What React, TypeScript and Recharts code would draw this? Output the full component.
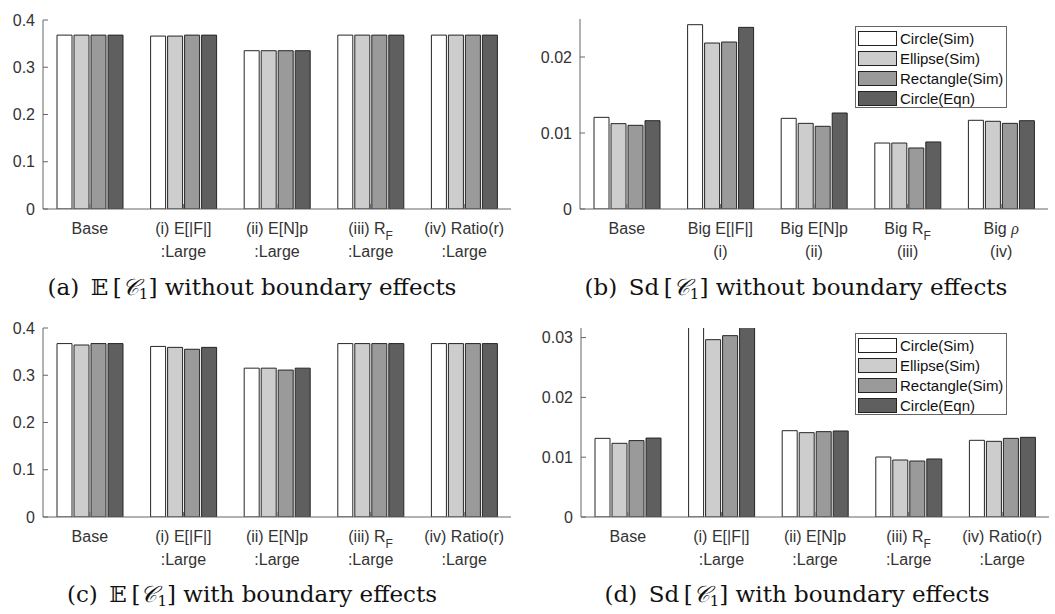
import React from 'react';
import { BarChart, Bar, XAxis, YAxis, Legend } from 'recharts';

// x tick labels ("\n" = second line, "_X" = subscript)
const labelsLarge = ['Base', '(i) E[|F|]\n:Large', '(ii) E[N]p\n:Large', '(iii) R_F\n:Large', '(iv) Ratio(r)\n:Large'];
const labelsBig = ['Base', 'Big E[|F|]\n(i)', 'Big E[N]p\n(ii)', 'Big R_F\n(iii)', 'Big ρ\n(iv)'];

const seriesKeys = ['circleSim', 'ellipseSim', 'rectSim', 'circleEqn'];
const seriesNames = ['Circle(Sim)', 'Ellipse(Sim)', 'Rectangle(Sim)', 'Circle(Eqn)'];
const seriesColors = ['#ffffff', '#cdcdcd', '#9a9a9a', '#5f5f5f'];

// (a) mean, no boundary effects
const meanNoBdCircleSim = [0.368, 0.366, 0.335, 0.368, 0.368];
const meanNoBdEllipseSim = [0.368, 0.366, 0.335, 0.368, 0.368];
const meanNoBdRectSim = [0.368, 0.368, 0.335, 0.368, 0.368];
const meanNoBdCircleEqn = [0.368, 0.368, 0.335, 0.368, 0.368];

// (b) sd, no boundary effects
const sdNoBdCircleSim = [0.01206, 0.02425, 0.01193, 0.00868, 0.01167];
const sdNoBdEllipseSim = [0.01123, 0.02184, 0.01127, 0.00868, 0.01154];
const sdNoBdRectSim = [0.01101, 0.02197, 0.01088, 0.00803, 0.01127];
const sdNoBdCircleEqn = [0.01162, 0.0239, 0.01263, 0.00882, 0.01162];

// (c) mean, with boundary effects
const meanBdCircleSim = [0.367, 0.361, 0.315, 0.367, 0.367];
const meanBdEllipseSim = [0.364, 0.359, 0.315, 0.367, 0.367];
const meanBdRectSim = [0.367, 0.355, 0.311, 0.367, 0.367];
const meanBdCircleEqn = [0.367, 0.359, 0.315, 0.367, 0.367];

// (d) sd, with boundary effects
const sdBdCircleSim = [0.01315, 0.034, 0.01443, 0.01003, 0.01282];
const sdBdEllipseSim = [0.01232, 0.02965, 0.0141, 0.00953, 0.01265];
const sdBdRectSim = [0.01277, 0.03032, 0.01427, 0.00936, 0.01315];
const sdBdCircleEqn = [0.0132, 0.0325, 0.01438, 0.0097, 0.01332];

const meanTicks = [0, 0.1, 0.2, 0.3, 0.4];
const sdTicksB = [0, 0.01, 0.02];
const sdTicksD = [0, 0.01, 0.02, 0.03];

const AXIS = '#666666';
const TEXT = '#333333';
const SANS = "'Liberation Sans', Arial, sans-serif";
const SERIF = "'DejaVu Serif', 'Liberation Serif', serif";

const makeRows = (labels: string[], cols: number[][]) =>
  labels.map((name, i) => {
    const row: any = { name };
    seriesKeys.forEach((k, j) => {
      row[k] = cols[j][i];
    });
    return row;
  });

const rowsA = makeRows(labelsLarge, [meanNoBdCircleSim, meanNoBdEllipseSim, meanNoBdRectSim, meanNoBdCircleEqn]);
const rowsB = makeRows(labelsBig, [sdNoBdCircleSim, sdNoBdEllipseSim, sdNoBdRectSim, sdNoBdCircleEqn]);
const rowsC = makeRows(labelsLarge, [meanBdCircleSim, meanBdEllipseSim, meanBdRectSim, meanBdCircleEqn]);
const rowsD = makeRows(labelsLarge, [sdBdCircleSim, sdBdEllipseSim, sdBdRectSim, sdBdCircleEqn]);

const renderLine = (line: string) => {
  if (line.includes('_')) {
    const [main, sub] = line.split('_');
    return [
      <tspan key="m">{main}</tspan>,
      <tspan key="s" dy={6} fontSize={12}>{sub}</tspan>,
    ];
  }
  if (line.includes('ρ')) {
    const [before] = line.split('ρ');
    return [
      <tspan key="b">{before}</tspan>,
      <tspan key="r" fontFamily="'Liberation Serif', serif" fontStyle="italic">ρ</tspan>,
    ];
  }
  return line;
};

const XTick = (props: any) => {
  const { x, y, payload } = props;
  const lines = String(payload.value).split('\n');
  return (
    <g>
      {lines.map((line, i) => (
        <text key={i} x={x} y={y + 25 + i * 22.5} textAnchor="middle" fill={TEXT} fontSize={16} fontFamily={SANS}>
          {renderLine(line)}
        </text>
      ))}
    </g>
  );
};

const LegendBox = (props: any) => {
  // keep the plotting order, not alphabetical
  const payload = [...(props.payload || [])].sort(
    (a: any, b: any) => seriesKeys.indexOf(a.dataKey) - seriesKeys.indexOf(b.dataKey)
  );
  return (
    <div style={{ border: `1px solid ${AXIS}`, background: '#fff', boxSizing: 'border-box', width: 152, height: 82, padding: '1px 2px', fontFamily: SANS, fontSize: 15, color: '#111' }}>
      {payload.map((p: any, i: number) => (
        <div key={i} style={{ display: 'flex', alignItems: 'center', height: 20 }}>
          <span style={{ display: 'inline-block', boxSizing: 'border-box', width: 39, height: 15, background: seriesColors[seriesKeys.indexOf(p.dataKey)] || p.color, border: '1px solid #222', marginRight: 3 }} />
          <span style={{ lineHeight: '15px' }}>{p.value}</span>
        </div>
      ))}
    </div>
  );
};

interface PanelProps {
  left: number;
  top: number;
  width: number;
  height: number;
  margin: { top: number; right: number; left: number; bottom: number };
  yWidth: number;
  xHeight: number;
  domain: [number, number];
  ticks: number[];
  rows: any[];
  legend?: { left: number; top: number };
}

const Panel = ({ left, top, width, height, margin, yWidth, xHeight, domain, ticks, rows, legend }: PanelProps) => (
  <div style={{ position: 'absolute', left, top, width, height }}>
    <BarChart width={width} height={height} data={rows} margin={margin} barSize={15} barGap={2}>
      <XAxis
        dataKey="name"
        height={xHeight}
        interval={0}
        tick={<XTick />}
        tickSize={-5}
        tickMargin={5}
        axisLine={{ stroke: AXIS }}
        tickLine={{ stroke: AXIS }}
      />
      <XAxis
        xAxisId="top"
        dataKey="name"
        orientation="top"
        height={0}
        mirror
        tick={false}
        tickSize={5}
        axisLine={{ stroke: AXIS }}
        tickLine={{ stroke: AXIS }}
      />
      <YAxis
        width={yWidth}
        domain={domain}
        ticks={ticks}
        allowDataOverflow
        interval={0}
        tickSize={-5}
        tickMargin={13}
        tickFormatter={(v: number) => String(v)}
        tick={{ fill: TEXT, fontSize: 16, fontFamily: SANS }}
        axisLine={{ stroke: AXIS }}
        tickLine={{ stroke: AXIS }}
      />
      <YAxis
        yAxisId="right"
        orientation="right"
        width={0}
        mirror
        domain={domain}
        ticks={ticks}
        allowDataOverflow
        interval={0}
        tick={false}
        tickSize={5}
        axisLine={{ stroke: AXIS }}
        tickLine={{ stroke: AXIS }}
      />
      {seriesKeys.map((k, i) => (
        <Bar key={k} dataKey={k} name={seriesNames[i]} fill={seriesColors[i]} stroke="#262626" strokeWidth={1} isAnimationActive={false} />
      ))}
      {legend && (
        <Legend
          layout="vertical"
          align="center"
          verticalAlign="middle"
          content={<LegendBox />}
          wrapperStyle={{ left: legend.left, top: legend.top, width: 152, height: 82 }}
        />
      )}
    </BarChart>
  </div>
);

const Caption = ({ cx, top, tag, op, rest }: { cx: number; top: number; tag: string; op: string; rest: string }) => (
  <div
    style={{
      position: 'absolute',
      left: cx - 260,
      top,
      width: 520,
      textAlign: 'center',
      fontFamily: SERIF,
      fontSize: 23,
      lineHeight: '28px',
      color: '#111',
      whiteSpace: 'nowrap',
    }}
  >
    {tag}
    {'\u2002'}
    {op}
    {'\u2009'}[<span style={{ fontStyle: 'italic' }}>𝒞</span>
    <sub style={{ fontSize: 15, verticalAlign: '-4px' }}>1</sub>] {rest}
  </div>
);

export default function App() {
  return (
    <div style={{ position: 'absolute', left: 0, top: 0, width: 1055, height: 614, background: '#fff', overflow: 'hidden' }}>
      <Panel left={0} top={0} width={525} height={270} margin={{ top: 20, right: 14, left: 0, bottom: 0 }} yWidth={43} xHeight={61} domain={[0, 0.4]} ticks={meanTicks} rows={rowsA} />
      <Panel left={525} top={0} width={530} height={270} margin={{ top: 19, right: 7, left: 0, bottom: 0 }} yWidth={55} xHeight={61} domain={[0, 0.025]} ticks={sdTicksB} rows={rowsB} legend={{ left: 330, top: 26 }} />
      <Panel left={0} top={300} width={525} height={270} margin={{ top: 28, right: 14, left: 0, bottom: 0 }} yWidth={43} xHeight={53} domain={[0, 0.4]} ticks={meanTicks} rows={rowsC} />
      <Panel left={525} top={300} width={530} height={270} margin={{ top: 28, right: 6, left: 0, bottom: 0 }} yWidth={56} xHeight={53} domain={[0, 0.0316]} ticks={sdTicksD} rows={rowsD} legend={{ left: 330, top: 33 }} />
      <Caption cx={252} top={273} tag="(a)" op="𝔼" rest="without boundary effects" />
      <Caption cx={796} top={273} tag="(b)" op="Sd" rest="without boundary effects" />
      <Caption cx={252} top={580} tag="(c)" op="𝔼" rest="with boundary effects" />
      <Caption cx={797} top={580} tag="(d)" op="Sd" rest="with boundary effects" />
    </div>
  );
}
